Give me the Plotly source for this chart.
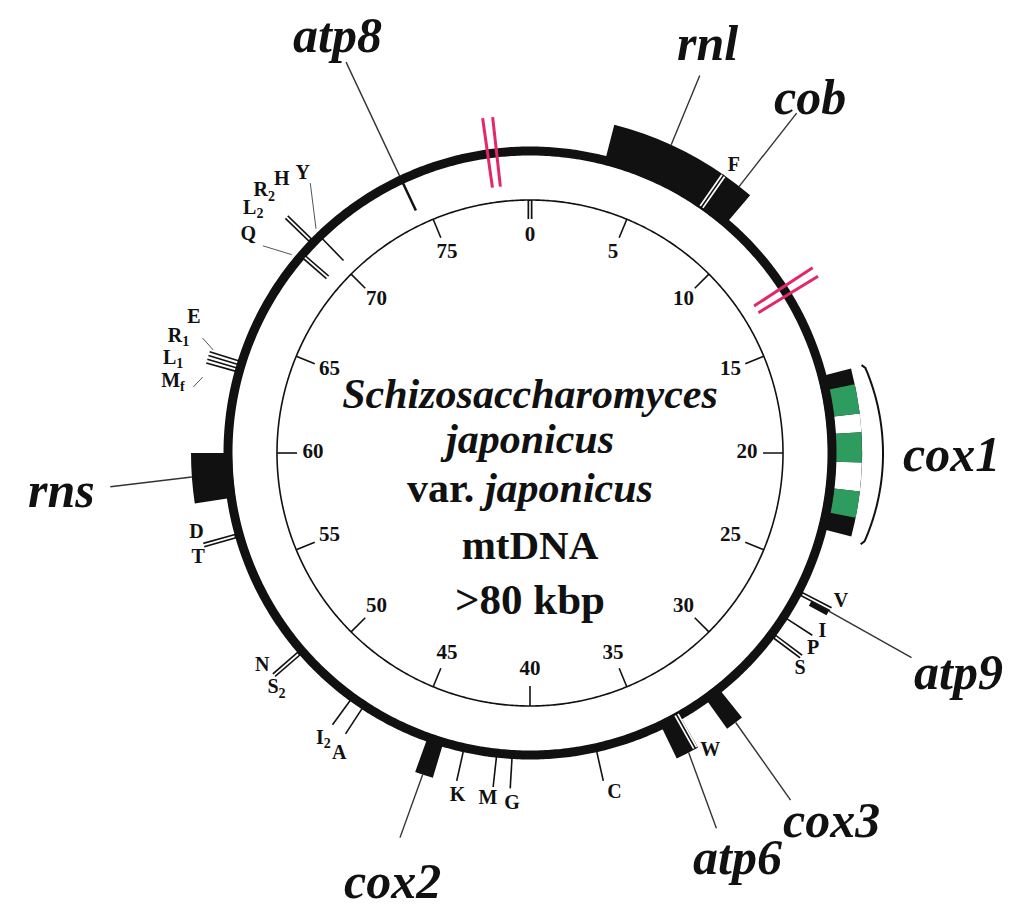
import numpy as np
import plotly.graph_objects as go

# ---------------- data ----------------
GENOME_KBP = 80
tick_kbp = list(range(0, 80, 5))
tick_labels = [str(v) for v in tick_kbp]

# protein / rRNA genes drawn as boxes (kbp)
gene_names = ["rnl", "cob", "cox3", "atp6", "cox2", "rns"]
gene_start = [3.2, 7.75, 31.4, 33.4, 43.7, 58.1]
gene_end = [7.75, 9.0, 32.1, 34.3, 44.4, 60.0]

cox1_start, cox1_end = 16.72, 23.24
cox1_exon_start = [17.34, 19.20, 21.48]
cox1_exon_end = [18.48, 20.36, 22.50]
cox1_intron_start = [18.48, 20.36]
cox1_intron_end = [19.20, 21.48]

atp9_start, atp9_end = 26.18, 26.38
atp8_kbp = 74.4

# break marks (red)
break_kbp = [78.4, 12.8]

# tRNA genes: position (kbp) and style of mark
trna_white_double = [7.75, 33.5]                      # F, W (inside boxes)
trna_double_out = [26.1, 28.2, 50.9, 56.5, 69.8]      # V, P/S, N/S2, D/T, L2/R2/H
trna_single_out = [27.3, 37.2, 40.75, 41.4, 42.8, 47.4, 48.0,
                   63.45, 63.6, 63.75, 63.9]          # I, C, G, M, K, A, I2, Mf, L1, R1, E
trna_double_in = [69.1]                               # Q
trna_single_in = [70.2]                               # Y

# tRNA labels
trna_label_text = ["F", "W", "V", "I", "P", "S", "C", "G", "M", "K", "A",
                   "I<sub>2</sub>", "S<sub>2</sub>", "N", "T", "D",
                   "M<sub>f</sub>", "L<sub>1</sub>", "R<sub>1</sub>", "E",
                   "Q", "L<sub>2</sub>", "R<sub>2</sub>", "H", "Y"]
trna_label_kbp = [7.87, 33.07, 25.7, 27.0, 27.7, 28.6, 36.9, 40.65, 41.54, 42.65, 47.2,
                  47.96, 50.47, 51.45, 56.1, 57.0,
                  62.5, 63.27, 64.05, 64.85,
                  68.37, 69.2, 69.9, 70.6, 71.3]

# gene labels
gene_label_text = ["atp8", "rnl", "cob", "cox1", "atp9", "cox3", "atp6", "cox2", "rns"]
gene_label_kbp = [74.51, 5.19, 8.49, 20.03, 26.02, 31.24, 33.97, 43.96, 59.0]

center_text = ["<i>Schizosaccharomyces</i>", "<i>japonicus</i>",
               "var. <i>japonicus</i>", "mtDNA", "&gt;80 kbp"]

# ---------------- layout constants (pixels) ----------------
W, H = 1018, 913
CX, CY = 530, 453         # circle centre in figure pixels
R_MAX = 440
R_INNER = 253
R_RING = 302
BOX_IN, BOX_OUT = 298, 339
INK = "#111111"
RED = "#e2286a"
GREEN = "#2e9b5f"
SERIF = "Liberation Serif, Times New Roman, serif"


def deg(k):
    return np.asarray(k, dtype=float) * 360.0 / GENOME_KBP


fig = go.Figure()


def segs(pairs):
    th, rr = [], []
    for (k0, r0), (k1, r1) in pairs:
        th += [float(deg(k0)), float(deg(k1)), None]
        rr += [r0, r1, None]
    return th, rr


def add_lines(pairs, color, width):
    th, rr = segs(pairs)
    fig.add_trace(go.Scatterpolar(theta=th, r=rr, mode="lines",
                                  line=dict(color=color, width=width),
                                  hoverinfo="skip", showlegend=False))


def add_bars(k0, k1, base, height, color):
    k0 = np.asarray(k0, float)
    k1 = np.asarray(k1, float)
    fig.add_trace(go.Barpolar(theta=deg((k0 + k1) / 2), width=deg(k1 - k0),
                              base=[base] * len(k0), r=[height] * len(k0),
                              marker=dict(color=color, line=dict(width=0)),
                              hoverinfo="skip", showlegend=False))


def add_text(texts, kbps, rs, size, color=INK):
    t = ["<b>%s</b>" % s for s in texts]
    fig.add_trace(go.Scatterpolar(theta=deg(kbps), r=rs, mode="text", text=t,
                                  textposition="middle center",
                                  textfont=dict(family=SERIF, size=size, color=color),
                                  cliponaxis=False, hoverinfo="skip", showlegend=False))


# gene boxes
add_bars(gene_start, gene_end, BOX_IN, BOX_OUT - BOX_IN, INK)
add_bars([cox1_start], [cox1_end], BOX_IN, 34, INK)
add_bars([atp9_start], [atp9_end], 318, 20, INK)
add_bars(cox1_intron_start, cox1_intron_end, 306, 26, "white")
add_bars(cox1_exon_start, cox1_exon_end, 306, 26, GREEN)

# outer thick ring and inner scale circle
ring_k = np.linspace(0, GENOME_KBP, 721)
fig.add_trace(go.Scatterpolar(theta=deg(ring_k), r=[R_RING] * len(ring_k), mode="lines",
                              line=dict(color=INK, width=9),
                              hoverinfo="skip", showlegend=False))
fig.add_trace(go.Scatterpolar(theta=deg(ring_k), r=[R_INNER] * len(ring_k), mode="lines",
                              line=dict(color=INK, width=1.6),
                              hoverinfo="skip", showlegend=False))

# scale ticks
add_lines([((k, R_INNER), (k, R_INNER - 20)) for k in tick_kbp[1:]], INK, 1.6)
add_lines([((0, R_INNER), (0, R_INNER - 19))], INK, 5)
add_lines([((0, R_INNER - 1), (0, R_INNER - 19))], "white", 1.6)
add_text(tick_labels, tick_kbp, [217] * len(tick_kbp), 21)

# tRNA marks
add_lines([((k, 300), (k, 338)) for k in trna_white_double], "white", 5)
add_lines([((k, 299), (k, 339)) for k in trna_white_double], INK, 1.6)
add_lines([((k, 305), (k, 339)) for k in trna_double_out], INK, 5)
add_lines([((k, 307), (k, 340)) for k in trna_double_out], "white", 1.8)
add_lines([((k, 305), (k, 336)) for k in trna_single_out], INK, 1.6)
add_lines([((k, 268), (k, 299)) for k in trna_double_in], INK, 5)
add_lines([((k, 267), (k, 298)) for k in trna_double_in], "white", 1.8)
add_lines([((k, 268), (k, 299)) for k in trna_single_in], INK, 1.6)
add_lines([((atp8_kbp, 268), (atp8_kbp, 299))], INK, 2.5)

# label connectors for tRNAs
add_lines([((64.0, 333), (64.3, 347)), ((62.9, 336), (62.47, 343)),
           ((68.84, 310), (68.4, 338)), ((70.3, 310), (71.3, 348))], "#555555", 1)

# gene leader lines
add_lines([((atp8_kbp, 306), (atp8_kbp, 432)),
           ((5.47, 339), (5.38, 414)),
           ((8.47, 338), (8.47, 432)),
           ((26.2, 338), (26.27, 433)),
           ((31.7, 339), (31.8, 434)),
           ((33.8, 339), (34.13, 419)),
           ((44.1, 339), (44.15, 406)),
           ((59.1, 339), (58.98, 421))], "#333333", 1.4)

# cox1 bracket
bk = np.linspace(16.84, 23.29, 80)
mid, half = (16.84 + 23.29) / 2, (23.29 - 16.84) / 2
br = 353 - 7 * ((bk - mid) / half) ** 2
th_b = [float(deg(16.70))] + list(deg(bk)) + [float(deg(23.43))]
r_b = [343] + list(br) + [343]
fig.add_trace(go.Scatterpolar(theta=th_b, r=r_b, mode="lines",
                              line=dict(color=INK, width=2),
                              hoverinfo="skip", showlegend=False))

# red break marks
add_lines([((k + d, 268), (k + d, 338)) for k in break_kbp for d in (-0.19, 0.19)], RED, 3)

# tRNA labels
add_text(trna_label_text, trna_label_kbp,
         [352, 348, 345, 343, 344, 346, 350, 351, 349, 351, 356,
          353, 346, 342, 348, 343,
          364, 369, 370, 362,
          356, 369, 373, 369, 360], 20)

# gene labels (outside the polar disc -> annotations placed at polar positions)
gene_label_r = [460, 447, 453, 422, 481, 475, 454, 450, 470]
for txt, k, r in zip(gene_label_text, gene_label_kbp, gene_label_r):
    a = np.radians(float(deg(k)))
    px = CX + r * np.sin(a)
    py = CY - r * np.cos(a)
    fig.add_annotation(x=px / W, y=1 - py / H, xref="paper", yref="paper",
                       text="<b><i>%s</i></b>" % txt, showarrow=False,
                       xanchor="center", yanchor="middle", borderpad=0,
                       font=dict(family=SERIF, size=50, color=INK))

# center title
c_off = [-56, -11, 38, 96, 150]
c_size = [42, 42, 42, 41, 43]
for s, o, fs in zip(center_text, c_off, c_size):
    fig.add_trace(go.Scatterpolar(
        theta=[0 if o < 0 else 180], r=[abs(o)], mode="text", text=["<b>%s</b>" % s],
        textfont=dict(family=SERIF, size=fs, color=INK),
        cliponaxis=False, hoverinfo="skip", showlegend=False))

fig.update_layout(
    width=W, height=H,
    margin=dict(l=0, r=0, t=0, b=0),
    paper_bgcolor="white",
    showlegend=False,
    polar=dict(
        domain=dict(x=[(CX - R_MAX) / W, (CX + R_MAX) / W],
                    y=[(H - CY - R_MAX) / H, (H - CY + R_MAX) / H]),
        bgcolor="white",
        radialaxis=dict(visible=False, range=[0, R_MAX]),
        angularaxis=dict(visible=False, rotation=90, direction="clockwise"),
    ),
)

fig.write_html("out.html",
               config={"displayModeBar": False, "staticPlot": True},
               post_script="document.body.style.margin='0';"
                           "document.body.style.overflow='hidden';")
